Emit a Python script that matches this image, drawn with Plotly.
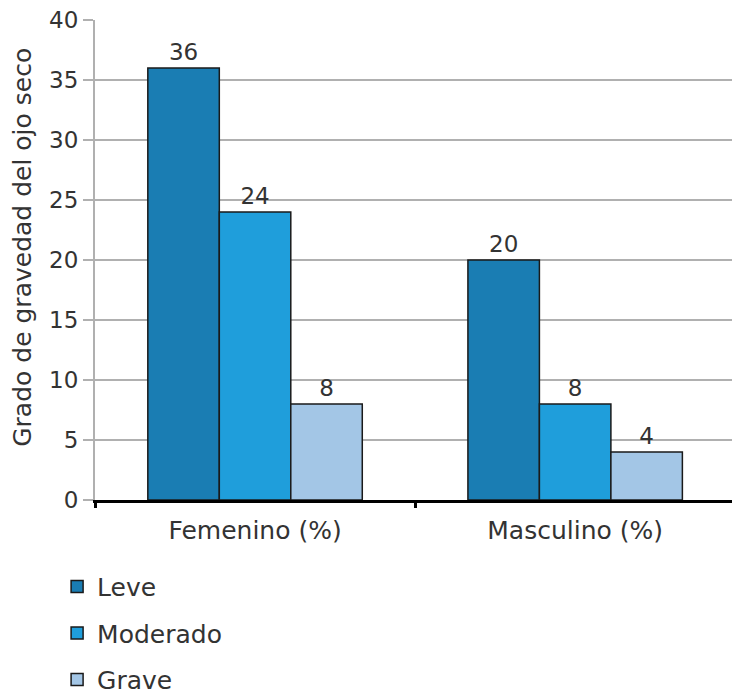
import plotly.graph_objects as go

categories = ["Femenino (%)", "Masculino (%)"]
series_names = ["Leve", "Moderado", "Grave"]
leve = [36, 20]
moderado = [24, 8]
grave = [8, 4]
colors = ["#1a7db3", "#1f9edb", "#a3c6e6"]
y_title = "Grado de gravedad del ojo seco"

FONT = "DejaVu Sans"
FS = 23
FSW = 25
TXT = "#333333"

fig = go.Figure()
for i, (name, vals) in enumerate(zip(series_names, [leve, moderado, grave])):
    fig.add_trace(go.Bar(
        x=categories, y=vals, name=name,
        marker=dict(color=colors[i], line=dict(color="#1a1a1a", width=1.5)),
        text=[str(v) for v in vals], textposition="outside",
        textfont=dict(family=FONT, size=FS, color=TXT),
        cliponaxis=False, legendgroup=name,
    ))

fig.add_annotation(
    text=y_title, textangle=-90, xref="paper", yref="paper",
    x=-0.115, y=0.527, xanchor="center", yanchor="middle", showarrow=False,
    font=dict(family=FONT, size=FSW, color=TXT),
)

fig.update_layout(
    width=732, height=696,
    margin=dict(l=95, r=0, t=20, b=196, autoexpand=False),
    paper_bgcolor="white", plot_bgcolor="white",
    barmode="group", bargap=0.33, bargroupgap=0,
    font=dict(family=FONT, size=FS, color=TXT),
    showlegend=True,
    legend=dict(
        xref="container", yref="container", x=0.078, y=0.19,
        xanchor="left", yanchor="top", tracegroupgap=11,
        font=dict(family=FONT, size=FSW, color=TXT),
        itemwidth=30,
    ),
    xaxis=dict(
        range=[-0.5, 1.49], showgrid=False,
        showline=True, linecolor="#000000", linewidth=3,
        ticks="outside", tickson="boundaries", ticklen=5, tickwidth=3, tickcolor="#000000",
        ticklabelstandoff=6,
        tickfont=dict(family=FONT, size=FSW, color=TXT),
    ),
    yaxis=dict(
        range=[0, 40], dtick=5, showgrid=True, gridcolor="#b0b0b0", gridwidth=2,
        showline=True, linecolor="#b0b0b0", linewidth=2,
        ticks="outside", ticklen=10, tickwidth=2, tickcolor="#b0b0b0",
        zeroline=False,
        tickfont=dict(family=FONT, size=FS, color=TXT),
    ),
)

fig.write_html("out.html")
